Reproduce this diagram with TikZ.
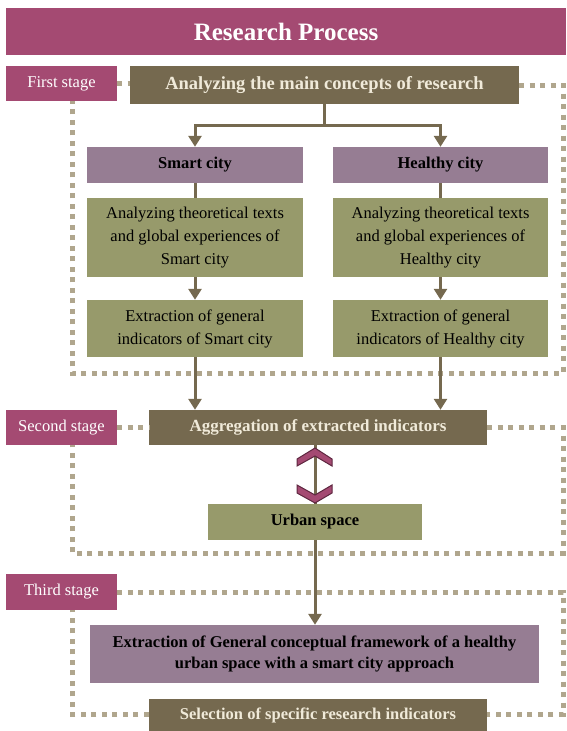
\documentclass[tikz,border=0pt]{standalone}
\usepackage{fontspec}
\setmainfont{Liberation Serif}
\usetikzlibrary{arrows.meta}

\definecolor{plum}{HTML}{A44A72}
\definecolor{plumdark}{HTML}{5E2740}
\definecolor{umber}{HTML}{75694F}
\definecolor{mauve}{HTML}{967D93}
\definecolor{greenc}{HTML}{979A6B}
\definecolor{cream}{HTML}{F0EAD9}
\definecolor{dotc}{HTML}{B0A68D}

\begin{document}
\begin{tikzpicture}[x=1pt,y=-1pt,line join=miter,
  stagebox/.style={fill=plum, text=white, minimum width=111pt, minimum height=35pt, inner sep=0pt, font=\fontsize{16.5}{20}\selectfont},
  darkbox/.style={fill=umber, text=cream, inner sep=0pt, font=\bfseries\fontsize{17}{20}\selectfont},
  mauvebox/.style={fill=mauve, text=black, inner sep=0pt, align=center, font=\bfseries\fontsize{16.5}{21}\selectfont},
  greenbox/.style={fill=greenc, text=black, inner sep=0pt, align=center, font=\fontsize{16.5}{23}\selectfont},
  conn/.style={draw=umber, line width=3pt},
  connarrow/.style={conn, -{Triangle[width=13pt,length=11pt]}},
  stagedots/.style={draw=dotc, line width=5pt, dash pattern=on 5pt off 5.5pt},
  chevron/.style={fill=plum, draw=plumdark, line width=1pt}
]
  \useasboundingbox (0,0) rectangle (566,731);

  % Title
  \node[fill=plum, text=white, minimum width=560pt, minimum height=47pt, inner sep=0pt,
        font=\bfseries\fontsize{25}{28}\selectfont] (title) at (286,31.5) {Research Process};

  % Stage labels
  \node[stagebox] (first) at (61.5,83.5) {First stage};
  \node[stagebox] (second) at (61.5,427.5) {Second stage};
  \node[stagebox, minimum height=36pt] (third) at (61.5,592) {Third stage};

  % First stage
  \node[darkbox, minimum width=389pt, minimum height=38pt, font=\bfseries\fontsize{18.5}{20}\selectfont]
    (main) at (324.5,85) {Analyzing the main concepts of research};
  \node[mauvebox, minimum width=216pt, minimum height=36pt] (smart) at (195,165) {Smart city};
  \node[mauvebox, minimum width=215pt, minimum height=36pt] (healthy) at (440.5,165) {Healthy city};
  \node[greenbox, minimum width=216pt, minimum height=79pt] (thsmart) at (195,237.5)
    {Analyzing theoretical texts\\and global experiences of\\Smart city};
  \node[greenbox, minimum width=215pt, minimum height=79pt] (thhealthy) at (440.5,237.5)
    {Analyzing theoretical texts\\and global experiences of\\Healthy city};
  \node[greenbox, minimum width=216pt, minimum height=57pt] (exsmart) at (195,328.5)
    {Extraction of general\\indicators of Smart city};
  \node[greenbox, minimum width=215pt, minimum height=57pt] (exhealthy) at (440.5,328.5)
    {Extraction of general\\indicators of Healthy city};

  % Second stage
  \node[darkbox, minimum width=338pt, minimum height=35pt] (aggr) at (318,427.5)
    {Aggregation of extracted indicators};
  \node[greenbox, minimum width=214pt, minimum height=36pt, font=\bfseries\fontsize{16.5}{20}\selectfont]
    (urban) at (315,522) {Urban space};

  % Third stage
  \node[mauvebox, minimum width=449pt, minimum height=58pt] (general) at (314.5,654)
    {Extraction of General conceptual framework of a healthy\\urban space with a smart city approach};
  \node[darkbox, minimum width=338pt, minimum height=32pt, font=\bfseries\fontsize{16.5}{20}\selectfont]
    (select) at (318,715) {Selection of specific research indicators};

  % Dotted stage frames
  \draw[stagedots] (first.east) -- (first.east -| main.west);
  \draw[stagedots] (main.east) -| (563,373) -| (72,0 |- first.south);
  \draw[stagedots] (second) -- (aggr);
  \draw[stagedots] (aggr.east) -| (563,553) -| (72,0 |- second.south);
  \draw[stagedots] (third.east) -| (563,714) -- (select.east |- 0,714);
  \draw[stagedots] (select.west |- 0,714) -| (72,0 |- third.south);

  % Connectors
  \draw[conn] (main.south) -- ++(0,21) coordinate (fork);
  \draw[connarrow] (fork) -| (smart.north);
  \draw[connarrow] (fork) -| (healthy.north);
  \draw[conn] (smart) -- (thsmart);
  \draw[conn] (healthy) -- (thhealthy);
  \draw[connarrow] (thsmart) -- (exsmart);
  \draw[connarrow] (thhealthy) -- (exhealthy);
  \draw[connarrow] (exsmart.south) -- (exsmart.south |- aggr.north);
  \draw[connarrow] (exhealthy.south) -- (exhealthy.south |- aggr.north);
  \draw[conn] (urban.north |- aggr.south) -- (urban.north);
  \draw[connarrow] (urban) -- (urban.south |- general.north);

  % Double chevron between aggregation and urban space
  \filldraw[chevron] (315,448) -- (332,459) -- (332,466) -- (315,456) -- (297,466) -- (297,459) -- cycle;
  \filldraw[chevron] (297,485) -- (315,495) -- (332,485) -- (332,493) -- (315,503) -- (297,493) -- cycle;
\end{tikzpicture}
\end{document}
